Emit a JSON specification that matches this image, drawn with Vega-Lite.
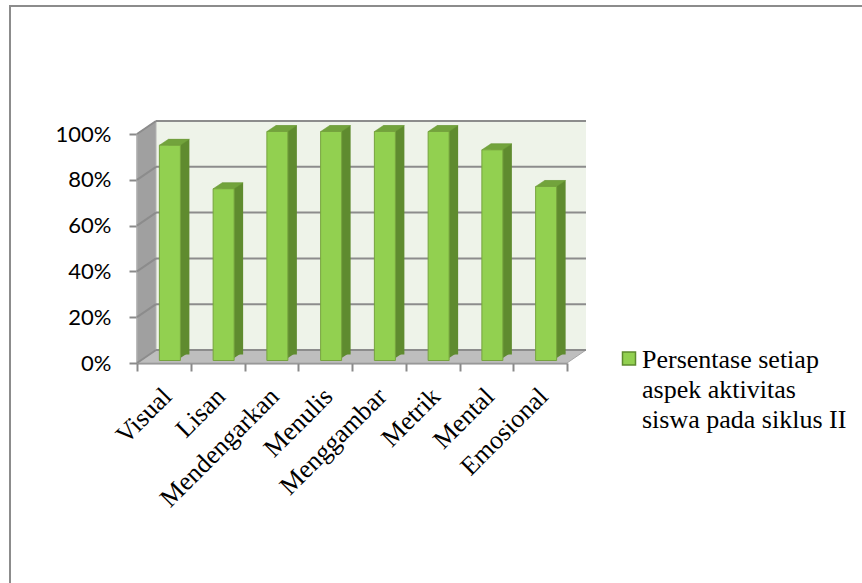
{
  "$schema": "https://vega.github.io/schema/vega-lite/v6.json",
  "width": 430,
  "height": 229,
  "autosize": {"type": "none"},
  "padding": {"left": 156, "top": 121, "right": 276, "bottom": 233},
  "background": "white",
  "config": {
    "view": {"fill": "#EEF3E9", "stroke": null},
    "style": {"guide-label": {"lineHeight": 30}}
  },
  "datasets": {
    "aspek": [
      {"aspek": "Visual", "nilai": 0.94},
      {"aspek": "Lisan", "nilai": 0.75},
      {"aspek": "Mendengarkan", "nilai": 1.0},
      {"aspek": "Menulis", "nilai": 1.0},
      {"aspek": "Menggambar", "nilai": 1.0},
      {"aspek": "Metrik", "nilai": 1.0},
      {"aspek": "Mental", "nilai": 0.92},
      {"aspek": "Emosional", "nilai": 0.76}
    ],
    "grid": [{"g": 0}, {"g": 0.2}, {"g": 0.4}, {"g": 0.6}, {"g": 0.8}, {"g": 1}]
  },
  "data": {"name": "aspek"},
  "layer": [
    {
      "data": {"values": [{}]},
      "mark": {"type": "point", "shape": "M 0.998 -0.459 L -0.722 -0.459 L -0.722 0.709", "size": 1000000, "filled": false, "stroke": "#8C8C8C", "strokeWidth": 2, "opacity": 1},
      "encoding": {"y": {"datum": 0.5, "type": "quantitative", "scale": {"domain": [0, 1]}, "title": null}}
    },
    {
      "data": {"values": [{}]},
      "mark": {"type": "point", "shape": "M -0.936 -0.864 L -0.86 -0.916 L -0.86 0 L -0.936 0.052 Z", "size": 250000, "filled": true, "color": "#A0A0A0", "stroke": "#B4B4B4", "strokeWidth": 1, "opacity": 1},
      "encoding": {"y": {"datum": 0, "type": "quantitative", "scale": {"domain": [0, 1]}, "title": null}}
    },
    {
      "data": {"values": [{}]},
      "mark": {"type": "point", "shape": "M -0.86 0 L 0.86 0 L 0.784 0.052 L -0.936 0.052 Z", "size": 250000, "filled": true, "color": "#BEBEBE", "stroke": "#A6A6A6", "strokeWidth": 1, "opacity": 1},
      "encoding": {"y": {"datum": 0, "type": "quantitative", "scale": {"domain": [0, 1]}, "title": null}}
    },
    {
      "data": {"values": [{}]},
      "mark": {"type": "point", "shape": "M -0.936 0.052 L -0.86 0 M -0.936 -0.1312 L -0.86 -0.1832 M -0.936 -0.3144 L -0.86 -0.3664 M -0.936 -0.4976 L -0.86 -0.5496 M -0.936 -0.6808 L -0.86 -0.7328 M -0.936 -0.864 L -0.86 -0.916", "size": 250000, "filled": false, "stroke": "#8C8C8C", "strokeWidth": 2, "opacity": 1},
      "encoding": {"y": {"datum": 0, "type": "quantitative", "scale": {"domain": [0, 1]}, "title": null}}
    },
    {
      "data": {"name": "grid"},
      "mark": {"type": "rule", "color": "#8C8C8C", "strokeWidth": 2},
      "encoding": {"y": {"field": "g", "type": "quantitative", "scale": {"domain": [0, 1]}, "title": null}}
    },
    {
      "mark": {"type": "bar", "width": 21, "xOffset": -4, "yOffset": 4.5, "y2Offset": 2, "color": "#5F8B2F"},
      "encoding": {
        "x": {"field": "aspek", "type": "nominal", "sort": null, "scale": {"paddingInner": 0, "paddingOuter": 0}, "title": null},
        "y": {"field": "nilai", "type": "quantitative", "scale": {"domain": [0, 1]}, "title": null}
      }
    },
    {
      "mark": {"type": "point", "shape": "M -0.25 0.2 L 0.65 0.2 L -0.25 0.8 Z", "size": 400, "filled": true, "color": "#5F8B2F", "opacity": 1},
      "encoding": {
        "x": {"field": "aspek", "type": "nominal", "sort": null, "title": null},
        "y": {"datum": 0, "type": "quantitative", "scale": {"domain": [0, 1]}, "title": null}
      }
    },
    {
      "mark": {"type": "point", "shape": "M -1 0.2 L 0.4 0.2 L 1 -0.2 L -0.4 -0.2 Z", "size": 900, "filled": true, "color": "#72A33C", "stroke": "#6A9A36", "strokeWidth": 0.5, "opacity": 1, "xOffset": -8.5, "yOffset": 7.5},
      "encoding": {
        "x": {"field": "aspek", "type": "nominal", "sort": null, "title": null},
        "y": {"field": "nilai", "type": "quantitative", "scale": {"domain": [0, 1]}, "title": null}
      }
    },
    {
      "mark": {"type": "bar", "width": 21, "xOffset": -13, "yOffset": 10.5, "y2Offset": 8, "stroke": "#76A33E", "strokeWidth": 1},
      "encoding": {
        "x": {
          "field": "aspek", "type": "nominal", "sort": null, "title": null,
          "scale": {"paddingInner": 0, "paddingOuter": 0},
          "axis": {
            "orient": "bottom", "offset": 13, "position": -19,
            "domainColor": "#8A8A8A", "domainWidth": 2,
            "tickColor": "#8A8A8A", "tickWidth": 2, "tickSize": 8, "tickBand": "extent",
            "labelAngle": -45, "labelAlign": "right", "labelBaseline": "middle",
            "labelFont": "Liberation Serif", "labelFontSize": 26, "labelColor": "#000000",
            "labelPadding": 21, "labelOffset": 3, "labelOverlap": false, "labelLimit": 400,
            "grid": false
          }
        },
        "y": {
          "field": "nilai", "type": "quantitative", "title": null,
          "scale": {"domain": [0, 1]},
          "axis": {
            "orient": "left", "offset": 19, "position": 13,
            "values": [0, 0.2, 0.4, 0.6, 0.8, 1], "format": ".0%",
            "domainColor": "#8A8A8A", "domainWidth": 2,
            "tickColor": "#8A8A8A", "tickWidth": 2, "tickSize": 8,
            "labelFont": "Lato", "labelFontSize": 22, "labelColor": "#000000", "labelPadding": 18,
            "grid": false
          }
        },
        "color": {
          "datum": "Persentase setiap aspek aktivitas siswa pada siklus II",
          "type": "nominal",
          "scale": {"range": ["#92D050"]},
          "legend": {
            "orient": "none", "legendX": 460, "legendY": 234, "padding": 0,
            "title": null,
            "symbolType": "M -1 -2.46 L 1 -2.46 L 1 -0.46 L -1 -0.46 Z",
            "symbolSize": 169, "symbolStrokeColor": "#5E8A2E", "symbolStrokeWidth": 1.5,
            "labelFont": "Liberation Serif", "labelFontSize": 26, "labelColor": "#000000",
            "labelBaseline": "alphabetic", "labelLimit": 400, "labelOffset": 0,
            "labelExpr": "['Persentase setiap', 'aspek aktivitas', 'siswa pada siklus II']"
          }
        }
      }
    }
  ]
}
